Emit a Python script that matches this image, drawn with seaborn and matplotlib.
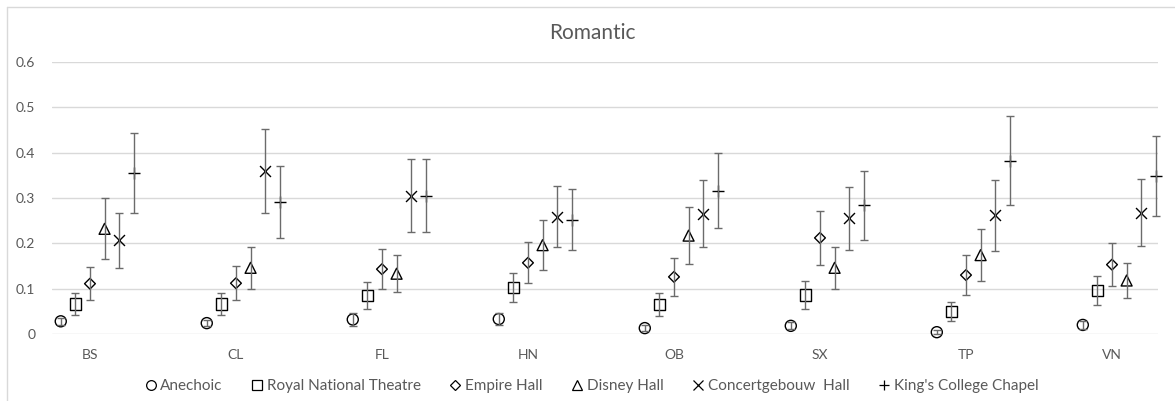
import numpy as np
import pandas as pd
import matplotlib
matplotlib.use("Agg")
import matplotlib.pyplot as plt
from matplotlib.lines import Line2D
import seaborn as sns

# ---- data -------------------------------------------------------------
categories = ["BS", "CL", "FL", "HN", "OB", "SX", "TP", "VN"]
venues = ["Anechoic", "Royal National Theatre", "Empire Hall",
          "Disney Hall", "Concertgebouw  Hall", "King's College Chapel"]

anechoic = [0.028, 0.024, 0.032, 0.033, 0.013, 0.018, 0.004, 0.020]
anechoic_err = [0.008, 0.007, 0.014, 0.014, 0.007, 0.008, 0.004, 0.008]
royal = [0.066, 0.066, 0.085, 0.103, 0.065, 0.086, 0.050, 0.096]
royal_err = [0.024, 0.025, 0.029, 0.032, 0.025, 0.030, 0.021, 0.032]
empire = [0.111, 0.112, 0.143, 0.157, 0.126, 0.212, 0.130, 0.153]
empire_err = [0.036, 0.037, 0.044, 0.045, 0.042, 0.060, 0.044, 0.048]
disney = [0.232, 0.146, 0.133, 0.196, 0.217, 0.146, 0.174, 0.118]
disney_err = [0.067, 0.047, 0.041, 0.055, 0.063, 0.046, 0.057, 0.038]
concert = [0.207, 0.360, 0.305, 0.259, 0.265, 0.255, 0.262, 0.268]
concert_err = [0.061, 0.092, 0.080, 0.068, 0.074, 0.070, 0.078, 0.074]
kings = [0.356, 0.291, 0.305, 0.252, 0.316, 0.284, 0.382, 0.348]
kings_err = [0.088, 0.080, 0.080, 0.067, 0.083, 0.076, 0.098, 0.088]

y_ticks = [0, 0.1, 0.2, 0.3, 0.4, 0.5, 0.6]
y_tick_labels = ["0", "0.1", "0.2", "0.3", "0.4", "0.5", "0.6"]
title = "Romantic"

means = [anechoic, royal, empire, disney, concert, kings]
errs = [anechoic_err, royal_err, empire_err, disney_err, concert_err, kings_err]

# ---- style ------------------------------------------------------------
sns.set_theme(style="white")
plt.rcParams["font.family"] = ["Lato", "DejaVu Sans"]
text_color = "#595959"
grid_color = "#d9d9d9"

W, H = 1175, 401
fig = plt.figure(figsize=(W / 100, H / 100), dpi=100)
fig.patch.set_facecolor("white")

left, right, bottom_px, top_px = 52, 1158, 334, 62
ax = fig.add_axes([left / W, (H - bottom_px) / H,
                   (right - left) / W, (bottom_px - top_px) / H])

markers = ["o", "s", "D", "^", "x", "+"]
sizes = [63, 68, 30, 62, 62, 66]
offsets = [-0.2, -0.1, 0.0, 0.1, 0.2, 0.3]
cat_pos = np.arange(len(categories))

rows = []
for v, m, e, off in zip(venues, means, errs, offsets):
    for c, p, mv, ev in zip(categories, cat_pos, m, e):
        rows.append({"venue": v, "category": c, "x": p + off, "mean": mv, "err": ev})
df = pd.DataFrame(rows)

for v, mk, s in zip(venues, markers, sizes):
    sub = df[df["venue"] == v]
    if mk in ("x", "+"):
        sns.scatterplot(data=sub, x="x", y="mean", marker=mk, s=s, color="black",
                        linewidth=1.0, ax=ax, zorder=3, clip_on=False, legend=False)
    else:
        sns.scatterplot(data=sub, x="x", y="mean", marker=mk, s=s,
                        facecolors="none", edgecolors="black",
                        linewidth=1.0, ax=ax, zorder=3, clip_on=False, legend=False)
    ax.errorbar(sub["x"], sub["mean"], yerr=sub["err"], fmt="none",
                ecolor="#6b6b6b", elinewidth=1.0, capsize=2.9, capthick=1.0,
                zorder=4, clip_on=False)

ax.set_xlim(-0.26, 7.315)
ax.set_ylim(0, 0.6)
ax.set_yticks(y_ticks)
ax.set_yticklabels(y_tick_labels)
ax.set_xticks(cat_pos)
ax.set_xticklabels(categories)
ax.tick_params(axis="y", length=0, pad=12, labelsize=10, labelcolor=text_color)
ax.tick_params(axis="x", length=0, pad=11, labelsize=10, labelcolor=text_color)
ax.set_xlabel("")
ax.set_ylabel("")
ax.grid(axis="y", color=grid_color, linewidth=1.0)
ax.set_axisbelow(True)
for sp in ax.spines.values():
    sp.set_visible(False)

fig.text(592 / W, 1 - 33 / H, title, ha="center", va="center",
         fontsize=15, color=text_color)

# legend
handles = []
for v, mk in zip(venues, markers):
    handles.append(Line2D([], [], linestyle="none", marker=mk, markersize=7 if mk != "D" else 5,
                          markerfacecolor="none", markeredgecolor="black",
                          markeredgewidth=0.9, color="black", label=v))
leg = fig.legend(handles=handles, loc="center", bbox_to_anchor=(592 / W, 1 - 386 / H),
                 ncol=6, frameon=False, fontsize=11, handlelength=0.7,
                 handletextpad=0.3, columnspacing=1.9, borderaxespad=0)
for t in leg.get_texts():
    t.set_color(text_color)

# chart-area border
fig.add_artist(Line2D([7 / W, 1.0], [1 - 7 / H, 1 - 7 / H], transform=fig.transFigure,
                      color=grid_color, linewidth=1.0))
fig.add_artist(Line2D([7 / W, 7 / W], [0, 1 - 7 / H], transform=fig.transFigure,
                      color=grid_color, linewidth=1.0))

fig.savefig("out.png", dpi=100, facecolor="white")
